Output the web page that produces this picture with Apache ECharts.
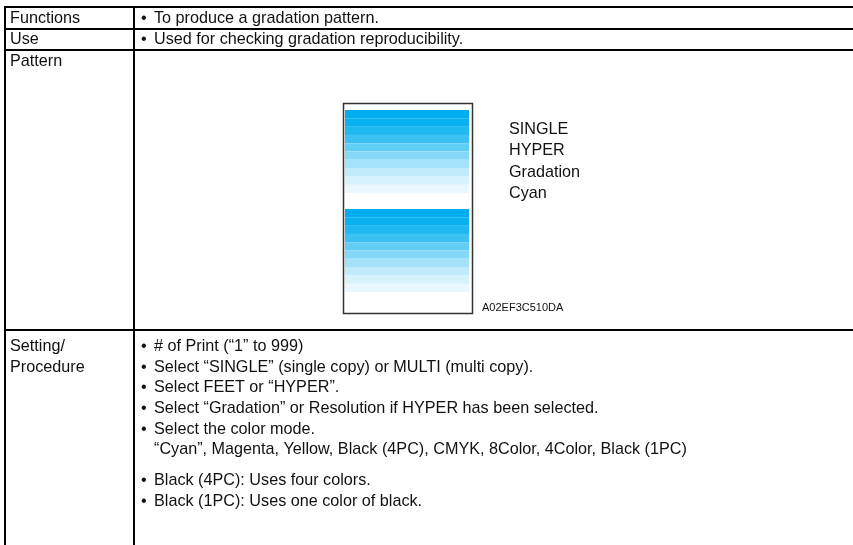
<!DOCTYPE html>
<html>
<head>
<meta charset="utf-8">
<script src="https://cdn.jsdelivr.net/npm/echarts@6/dist/echarts.min.js"></script>
<style>
html,body{margin:0;padding:0;background:#fff;}
#c{width:853px;height:545px;}
</style>
</head>
<body>
<div id="c"></div>
<script>
// ---- data ----
var rowLabels = ['Functions', 'Use', 'Pattern', 'Setting/', 'Procedure'];
var functionsText = ['To produce a gradation pattern.'];
var useText = ['Used for checking gradation reproducibility.'];
var patternLabels = ['SINGLE', 'HYPER', 'Gradation', 'Cyan'];
var patternCode = 'A02EF3C510DA';
var bandNames = ['b1','b2','b3','b4','b5','b6','b7','b8','b9','b10'];
var gradationDensity = [100, 96, 88, 76, 61, 48, 36, 25, 16, 9]; // % cyan, top to bottom
var settingLines = [
  {bullet: true,  text: '# of Print (\u201c1\u201d to 999)'},
  {bullet: true,  text: 'Select \u201cSINGLE\u201d (single copy) or MULTI (multi copy).'},
  {bullet: true,  text: 'Select FEET or \u201cHYPER\u201d.'},
  {bullet: true,  text: 'Select \u201cGradation\u201d or Resolution if HYPER has been selected.'},
  {bullet: true,  text: 'Select the color mode.'},
  {bullet: false, text: '\u201cCyan\u201d, Magenta, Yellow, Black (4PC), CMYK, 8Color, 4Color, Black (1PC)'},
  {bullet: true,  text: 'Black (4PC): Uses four colors.'},
  {bullet: true,  text: 'Black (1PC): Uses one color of black.'}
];

// ---- helpers ----
var FONT = '"Liberation Sans", Arial, Helvetica, sans-serif';
var FS = 16.2;
var CYAN = [0, 174, 239];
function tint(d) {
  var t = d / 100;
  var c = CYAN.map(function (v) { return Math.round(255 - (255 - v) * t); });
  return 'rgb(' + c.join(',') + ')';
}
function bandData() {
  return gradationDensity.map(function (d) {
    return {value: 1, itemStyle: {color: tint(d)}};
  });
}

var chart = echarts.init(document.getElementById('c'), null, {renderer: 'canvas'});

var graphics = [];
function hline(y) {
  graphics.push({type: 'line', shape: {x1: 4, y1: y, x2: 853, y2: y}, style: {stroke: '#000', lineWidth: 2}});
}
function vline(x) {
  graphics.push({type: 'line', shape: {x1: x, y1: 6, x2: x, y2: 545}, style: {stroke: '#000', lineWidth: 2}});
}
function txt(x, y, s, size) {
  graphics.push({type: 'text', x: x, y: y, style: {text: s, fill: '#111', font: (size || FS) + 'px ' + FONT, verticalAlign: 'middle', textAlign: 'left'}});
}
hline(7); hline(29); hline(50); hline(330);
vline(5); vline(134);

txt(10, 18.5, rowLabels[0]);
txt(10, 40, rowLabels[1]);
txt(10, 61.5, rowLabels[2]);
txt(10, 347, rowLabels[3]);
txt(10, 367.5, rowLabels[4]);

function bulletLine(y, s, bullet) {
  if (bullet) txt(141, y, '\u2022');
  txt(bullet ? 154 : 154, y, s);
}
bulletLine(18.5, functionsText[0], true);
bulletLine(40, useText[0], true);
var ys = [347, 367.5, 388, 409, 429.5, 450, 481, 502];
settingLines.forEach(function (l, i) { bulletLine(ys[i], l.text, l.bullet); });

patternLabels.forEach(function (s, i) { txt(509, 129.5 + i * 21.5, s); });
txt(482, 308, patternCode, 11);

// pattern frame
graphics.push({type: 'rect', shape: {x: 343.5, y: 103.5, width: 129, height: 210}, style: {fill: null, stroke: '#333', lineWidth: 1.5}, z: 10});

var option = {
  animation: false,
  backgroundColor: '#fff',
  grid: [
    {left: 345, top: 110, width: 124, height: 83},
    {left: 345, top: 209, width: 124, height: 83}
  ],
  xAxis: [
    {gridIndex: 0, type: 'value', min: 0, max: 1, show: false},
    {gridIndex: 1, type: 'value', min: 0, max: 1, show: false}
  ],
  yAxis: [
    {gridIndex: 0, type: 'category', data: bandNames, inverse: true, show: false},
    {gridIndex: 1, type: 'category', data: bandNames, inverse: true, show: false}
  ],
  series: [
    {type: 'bar', xAxisIndex: 0, yAxisIndex: 0, data: bandData(), barWidth: '101%', silent: true},
    {type: 'bar', xAxisIndex: 1, yAxisIndex: 1, data: bandData(), barWidth: '101%', silent: true}
  ],
  graphic: graphics
};
chart.setOption(option);
</script>
</body>
</html>
